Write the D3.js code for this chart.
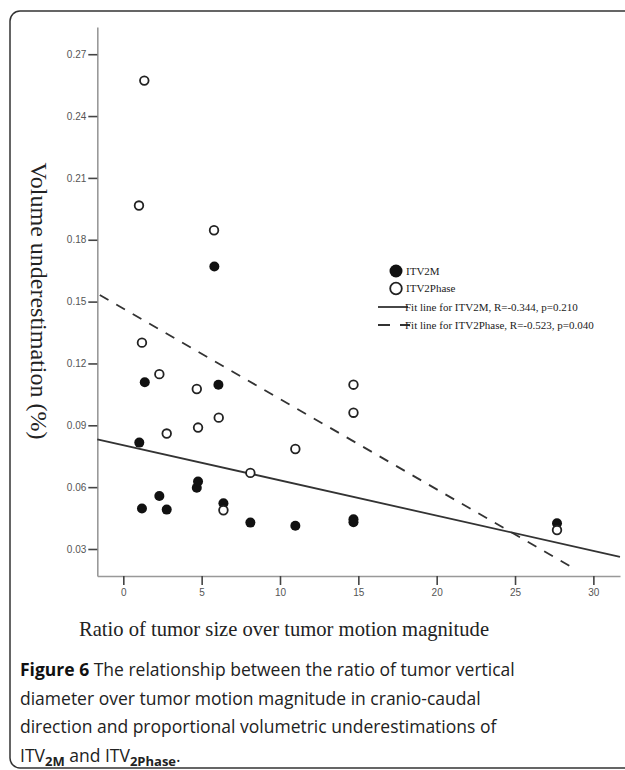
<!DOCTYPE html>
<html>
<head>
<meta charset="utf-8">
<script src="https://cdn.jsdelivr.net/npm/d3@7"></script>
<style>
  body { margin: 0; background: #fff; }
  svg { display: block; }
</style>
</head>
<body>
<div id="chart"></div>
<script>
let width = 625;
let height = 770;

// 数据
let itv2mX = [1.02, 1.19, 1.37, 2.30, 2.77, 4.69, 4.77, 5.81, 6.07, 6.39, 8.11, 10.98, 14.69, 14.69, 27.68];
let itv2mY = [0.0816, 0.0496, 0.1109, 0.0557, 0.0491, 0.0597, 0.0627, 0.1670, 0.1097, 0.0522, 0.0428, 0.0413, 0.0444, 0.0430, 0.0425];
let itv2phaseX = [1.00, 1.19, 1.34, 2.30, 2.77, 4.69, 4.77, 5.79, 6.09, 6.39, 8.11, 10.98, 14.69, 14.69, 27.68];
let itv2phaseY = [0.1966, 0.1301, 0.2572, 0.1148, 0.0860, 0.1076, 0.0889, 0.1846, 0.0937, 0.0488, 0.0669, 0.0785, 0.1097, 0.0961, 0.0392];

// 拟合线端点
let fitItv2mX = [-1.66, 31.70];
let fitItv2mY = [0.0832, 0.0262];
let fitItv2phaseX = [-1.50, 28.75];
let fitItv2phaseY = [0.1532, 0.0206];

let xTicks = [0, 5, 10, 15, 20, 25, 30];
let yTicks = [0.03, 0.06, 0.09, 0.12, 0.15, 0.18, 0.21, 0.24, 0.27];

let legendLabels = ["ITV2M", "ITV2Phase", "Fit line for ITV2M, R=-0.344, p=0.210", "Fit line for ITV2Phase, R=-0.523, p=0.040"];

let xTitle = "Ratio of tumor size over tumor motion magnitude";
let yTitle = "Volume underestimation (%)";

let captionLines = [
  [{t: "Figure 6", b: true}, {t: " The relationship between the ratio of tumor vertical"}],
  [{t: "diameter over tumor motion magnitude in cranio-caudal"}],
  [{t: "direction and proportional volumetric underestimations of"}],
  [{t: "ITV"}, {t: "2M", sub: true}, {t: " and ITV", up: true}, {t: "2Phase", sub: true}, {t: ".", up: true}]
];

let serif = "'Liberation Serif', 'Times New Roman', serif";
let sans = "'Open Sans', 'Noto Sans', sans-serif";

let svg = d3.select("#chart").append("svg")
  .attr("width", width)
  .attr("height", height);

// 外框
svg.append("rect")
  .attr("x", 10).attr("y", 11)
  .attr("width", 640).attr("height", 757)
  .attr("rx", 10).attr("ry", 10)
  .attr("fill", "none")
  .attr("stroke", "#333")
  .attr("stroke-width", 1.5);

// 比例尺
let xScale = d3.scaleLinear().domain([-1.66, 31.70]).range([97.3, 620]);
let yScale = d3.scaleLinear().domain([0.0169, 0.2832]).range([576, 27]);

// 坐标轴
let xAxis = svg.append("g")
  .attr("transform", "translate(0,576)")
  .call(d3.axisBottom(xScale).tickValues(xTicks).tickSize(9).tickSizeOuter(0).tickPadding(4));
let yAxis = svg.append("g")
  .attr("transform", "translate(97.3,0)")
  .call(d3.axisLeft(yScale).tickValues(yTicks).tickFormat(d3.format(".2f")).tickSize(9).tickSizeOuter(0).tickPadding(2));

[xAxis, yAxis].forEach(function(g) {
  g.select(".domain").attr("stroke", "#999").attr("stroke-width", 1.6);
  g.selectAll(".tick line").attr("stroke", "#444").attr("stroke-width", 1.6);
  g.selectAll(".tick text")
    .attr("fill", "#555")
    .style("font-family", "'Liberation Sans', Arial, sans-serif")
    .style("font-size", "10px");
});

// 轴标题
svg.append("text")
  .attr("x", 284).attr("y", 636)
  .attr("text-anchor", "middle")
  .style("font-family", serif)
  .style("font-size", "20.6px")
  .attr("fill", "#222")
  .text(xTitle);

svg.append("text")
  .attr("transform", "translate(31,301) rotate(90)")
  .attr("text-anchor", "middle")
  .style("font-family", serif)
  .style("font-size", "24px")
  .attr("fill", "#222")
  .text(yTitle);

// 拟合线
let line = d3.line().x(d => xScale(d[0])).y(d => yScale(d[1]));
svg.append("path")
  .datum(d3.zip(fitItv2mX, fitItv2mY))
  .attr("d", line)
  .attr("fill", "none")
  .attr("stroke", "#333")
  .attr("stroke-width", 1.8);
svg.append("path")
  .datum(d3.zip(fitItv2phaseX, fitItv2phaseY))
  .attr("d", line)
  .attr("fill", "none")
  .attr("stroke", "#333")
  .attr("stroke-width", 1.8)
  .attr("stroke-dasharray", "10,9");

// 散点
svg.append("g").selectAll("circle")
  .data(d3.zip(itv2mX, itv2mY))
  .enter().append("circle")
  .attr("cx", d => xScale(d[0]))
  .attr("cy", d => yScale(d[1]))
  .attr("r", 5)
  .attr("fill", "#111");

svg.append("g").selectAll("circle")
  .data(d3.zip(itv2phaseX, itv2phaseY))
  .enter().append("circle")
  .attr("cx", d => xScale(d[0]))
  .attr("cy", d => yScale(d[1]))
  .attr("r", 4.3)
  .attr("fill", "#fff")
  .attr("stroke", "#222")
  .attr("stroke-width", 1.8);

// 图例
let legend = svg.append("g").attr("transform", "translate(396,271)");
legend.append("circle").attr("cx", 0).attr("cy", 0).attr("r", 6.5).attr("fill", "#111");
legend.append("circle").attr("cx", 0).attr("cy", 17.5).attr("r", 5.8)
  .attr("fill", "#fff").attr("stroke", "#222").attr("stroke-width", 1.8);
legend.append("line").attr("x1", -18).attr("x2", 12).attr("y1", 36).attr("y2", 36)
  .attr("stroke", "#333").attr("stroke-width", 1.8);
legend.append("line").attr("x1", -18).attr("x2", 14).attr("y1", 54).attr("y2", 54)
  .attr("stroke", "#333").attr("stroke-width", 1.8).attr("stroke-dasharray", "12,10");

legend.selectAll("text.lbl")
  .data(legendLabels)
  .enter().append("text")
  .attr("class", "lbl")
  .attr("x", (d, i) => i < 2 ? 10 : 9)
  .attr("y", (d, i) => [0, 17.5, 36, 54][i])
  .attr("dy", "0.35em")
  .style("font-family", serif)
  .style("font-size", "11px")
  .attr("fill", "#222")
  .text(d => d);

// 图注
let caption = svg.append("g");
captionLines.forEach(function(parts, i) {
  let t = caption.append("text")
    .attr("x", 20)
    .attr("y", 676 + i * 28.5)
    .style("font-family", sans)
    .style("font-size", "17.5px")
    .attr("fill", "#222");
  parts.forEach(function(p) {
    let s = t.append("tspan").text(p.t);
    if (p.b) s.style("font-weight", "bold").attr("fill", "#111");
    if (p.sub) s.style("font-size", "13px").style("font-weight", "bold").attr("dy", 4);
    else if (p.up) s.attr("dy", -4);
  });
});
</script>
</body>
</html>
